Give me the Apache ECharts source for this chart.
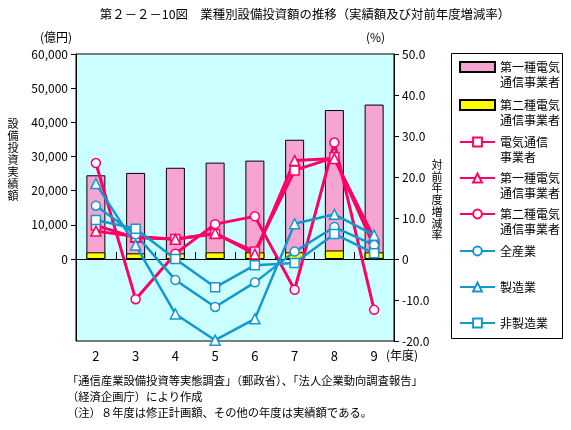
<!DOCTYPE html>
<html><head><meta charset="utf-8">
<script src="https://cdn.jsdelivr.net/npm/echarts@6/dist/echarts.min.js"></script>
<style>html,body{margin:0;padding:0;background:#fff}#c{width:571px;height:430px}</style>
</head><body><div id="c"></div>
<script>
// ---- data ----
const years = ['2','3','4','5','6','7','8','9'];
const type1Invest = [24500, 25200, 26700, 28200, 28800, 34900, 43600, 45200];   // 億円 (第一種)
const type2Invest = [1950, 1650, 1650, 1950, 1950, 1950, 2500, 1950];            // 億円 (第二種)
const telecomGrowth = [8.2, 5.2, 4.9, 6.1, 1.8, 21.6, 24.8, 3.0];               // 電気通信事業者 %
const type1Growth = [6.8, 5.5, 4.8, 6.3, 1.2, 24.0, 24.5, 5.0];                 // 第一種 %
const type2Growth = [23.4, -9.8, 1.3, 8.5, 10.4, -7.5, 28.4, -12.4];            // 第二種 %
const allIndustryGrowth = [13.0, 6.0, -5.1, -11.7, -5.7, 1.8, 7.8, 3.4];        // 全産業 %
const manufacturingGrowth = [18.4, 3.4, -13.4, -19.8, -14.6, 8.6, 10.9, 5.8];   // 製造業 %
const nonManufacturingGrowth = [9.5, 7.4, 0.0, -6.9, -1.5, -1.0, 6.1, 1.4];     // 非製造業 %
const leftTickValues = [0, 10000, 20000, 30000, 40000, 50000, 60000];
const legendLabels = {
  b1: '第一種電気\n通信事業者', b2: '第二種電気\n通信事業者', l1: '電気通信\n事業者',
  l2: '第一種電気\n通信事業者', l3: '第二種電気\n通信事業者', l4: '全産業', l5: '製造業', l6: '非製造業'
};

// ---- styles ----
const FONT = '"Noto Sans CJK JP", sans-serif';
const PINK = '#FF0066', BLUE = '#1298CE';
const chart = echarts.init(document.getElementById('c'), null, {renderer: 'canvas'});

const legendKeys = ['b1','b2','l1','l2','l3','l4','l5','l6'];
const legendCenters = [67, 105, 142, 178, 214, 251, 287, 323];
const legends = legendKeys.map((k, i) => {
  const two = legendLabels[k].indexOf('\n') >= 0;
  const isBar = k[0] === 'b';
  return {
    data: [k], left: 459, top: legendCenters[i] - (two ? 22.5 : 7.5), padding: 0,
    itemWidth: 35, itemHeight: isBar ? 10 : 11, selectedMode: false,
    icon: isBar ? 'rect' : undefined,
    formatter: n => (two ? ' \n' : '') + legendLabels[n],
    textStyle: {fontFamily: FONT, fontSize: 12, lineHeight: 15, color: '#000'}
  };
});

function lineSeries(name, data, symbol, color, width) {
  return {
    name, type: 'line', yAxisIndex: 1, xAxisIndex: 0, data, symbol, symbolSize: symbol === 'triangle' ? 10 : 9,
    lineStyle: {color, width}, itemStyle: {color: '#fff', borderColor: color, borderWidth: 1.5},
    emphasis: {disabled: true}, z: 4, animation: false
  };
}

const txt = (text, x, y, opts = {}) => ({
  type: 'text', x, y, silent: true,
  style: Object.assign({text, font: (opts.size || 12) + 'px ' + FONT, fill: '#000',
    textAlign: opts.align || 'left', textVerticalAlign: 'middle', lineHeight: opts.lh}, opts.extra || {})
});

chart.setOption({
  animation: false,
  backgroundColor: '#fff',
  textStyle: {fontFamily: FONT},
  grid: {left: 76, right: 177, top: 54, bottom: 89, show: true, backgroundColor: '#CCFFFF', borderColor: '#000', borderWidth: 1},
  legend: legends,
  xAxis: [
    {type: 'category', data: years, position: 'bottom', axisLine: {show: false}, axisTick: {show: false},
     axisLabel: {fontSize: 13, color: '#000', margin: 9, fontFamily: FONT}},
    {type: 'category', data: years, position: 'top',
     axisLine: {show: true, onZero: true, onZeroAxisIndex: 0, lineStyle: {color: '#000', width: 1}},
     axisTick: {show: true, inside: false, length: 7, lineStyle: {color: '#000'}}, axisLabel: {show: false}}
  ],
  yAxis: [
    {type: 'value', min: -24000, max: 60000, position: 'left',
     axisLine: {show: true, lineStyle: {color: '#000'}},
     axisTick: {show: true, customValues: leftTickValues, length: 5, lineStyle: {color: '#000'}},
     axisLabel: {customValues: leftTickValues, formatter: v => v.toLocaleString('en-US'), fontSize: 12, color: '#000', margin: 8, fontFamily: FONT},
     splitLine: {show: false}},
    {type: 'value', min: -20, max: 50, interval: 10, position: 'right',
     axisLine: {show: true, lineStyle: {color: '#000'}},
     axisTick: {show: true, length: 5, lineStyle: {color: '#000'}},
     axisLabel: {formatter: v => v === 0 ? '0' : v.toFixed(1), fontSize: 12, color: '#000', margin: 8, fontFamily: FONT},
     splitLine: {show: false}}
  ],
  series: [
    {name: 'b1', type: 'bar', data: type1Invest, barWidth: 19, z: 2,
     itemStyle: {color: '#F6A4D2', borderColor: '#000', borderWidth: 1}},
    {name: 'b2', type: 'bar', data: type2Invest, barWidth: 19, barGap: '-100%', z: 2,
     itemStyle: {color: '#FFFF00', borderColor: '#000', borderWidth: 1}},
    lineSeries('l1', telecomGrowth, 'rect', PINK, 3),
    lineSeries('l2', type1Growth, 'triangle', PINK, 3),
    lineSeries('l3', type2Growth, 'circle', PINK, 3),
    lineSeries('l4', allIndustryGrowth, 'circle', BLUE, 2.5),
    lineSeries('l5', manufacturingGrowth, 'triangle', BLUE, 2.5),
    lineSeries('l6', nonManufacturingGrowth, 'rect', BLUE, 2.5)
  ],
  graphic: [
    {type: 'rect', shape: {x: 451.5, y: 53.5, width: 111, height: 285}, z: -1, silent: true,
     style: {fill: '#fff', stroke: '#000', lineWidth: 1}},
    txt('第２－２－10図　業種別設備投資額の推移（実績額及び対前年度増減率）', 305, 14, {align: 'center', size: 12.4}),
    txt('(億円)', 40, 37),
    txt('(%)', 366, 37),
    txt('設\n備\n投\n資\n実\n績\n額', 13, 160, {align: 'center', size: 11, lh: 12}),
    txt('対\n前\n年\n度\n増\n減\n率', 437, 200, {align: 'center', size: 11, lh: 11.7}),
    txt('(年度)', 386, 355),
    txt('「通信産業設備投資等実態調査」（郵政省）、「法人企業動向調査報告」', 67, 381, {size: 11.3}),
    txt('（経済企画庁）により作成', 67, 397, {size: 11.3}),
    txt('（注）８年度は修正計画額、その他の年度は実績額である。', 67, 413, {size: 11.3})
  ]
});
</script>
</body></html>
